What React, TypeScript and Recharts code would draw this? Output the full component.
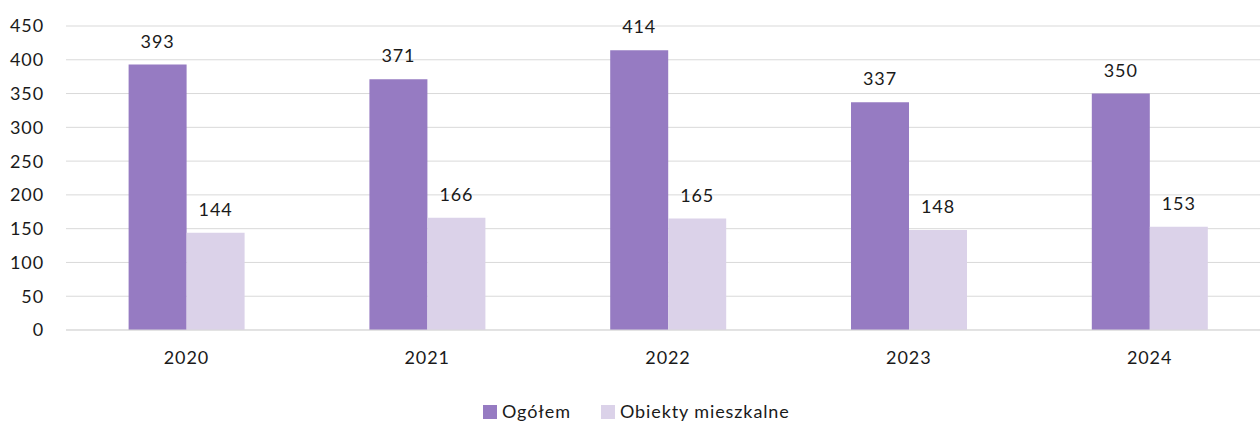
import { BarChart, Bar, XAxis, YAxis, CartesianGrid, LabelList } from "recharts"

const years = ["2020", "2021", "2022", "2023", "2024"]
const ogolem = [393, 371, 414, 337, 350]
const mieszkalne = [144, 166, 165, 148, 153]
const yTicks = [0, 50, 100, 150, 200, 250, 300, 350, 400, 450]

const data = years.map((year, i) => ({
  year,
  ogolem: ogolem[i],
  mieszkalne: mieszkalne[i],
}))

const series = [
  { key: "ogolem", name: "Ogółem", color: "#967bc2" },
  { key: "mieszkalne", name: "Obiekty mieszkalne", color: "#dbd2e9" },
]

const FONT = "Lato, 'Open Sans', sans-serif"
const TEXT = "#1a1a1a"
const FS = 18
const LS = 0.9

export default function App() {
  return (
    <div style={{ position: "absolute", left: 0, top: 0, width: 1260, height: 424, overflow: "hidden", background: "#fff", fontFamily: FONT }}>
      <BarChart
        width={1270}
        height={424}
        data={data}
        margin={{ top: 26, right: 0, bottom: 54, left: 0 }}
        barGap={0}
        barCategoryGap="26%"
      >
        <CartesianGrid vertical={false} stroke="#d9d9d9" strokeWidth={1} />
        <XAxis
          dataKey="year"
          axisLine={{ stroke: "#d9d9d9" }}
          tickLine={false}
          tickSize={0}
          tickMargin={21}
          tick={{ fill: TEXT, fontSize: FS, fontFamily: FONT, letterSpacing: LS }}
          height={40}
        />
        <YAxis
          domain={[0, 450]}
          ticks={yTicks}
          axisLine={false}
          tickLine={false}
          tickSize={0}
          tickMargin={22}
          width={66}
          tick={{ fill: TEXT, fontSize: FS, fontFamily: FONT, letterSpacing: LS }}
        />
        {series.map((s) => (
          <Bar key={s.key} dataKey={s.key} name={s.name} fill={s.color} isAnimationActive={false}>
            <LabelList dataKey={s.key} position="top" offset={17} fill={TEXT} fontSize={FS} fontFamily={FONT} style={{ letterSpacing: LS }} />
          </Bar>
        ))}
      </BarChart>
      <div style={{ position: "absolute", top: 401, left: 483, display: "flex", alignItems: "center", fontSize: FS, letterSpacing: LS, color: TEXT, lineHeight: "21px" }}>
        {series.map((s) => (
          <div key={s.key} style={{ display: "flex", alignItems: "center", marginRight: 30 }}>
            <span style={{ width: 14, height: 14, background: s.color, display: "inline-block", marginRight: 5 }} />
            <span>{s.name}</span>
          </div>
        ))}
      </div>
    </div>
  )
}
